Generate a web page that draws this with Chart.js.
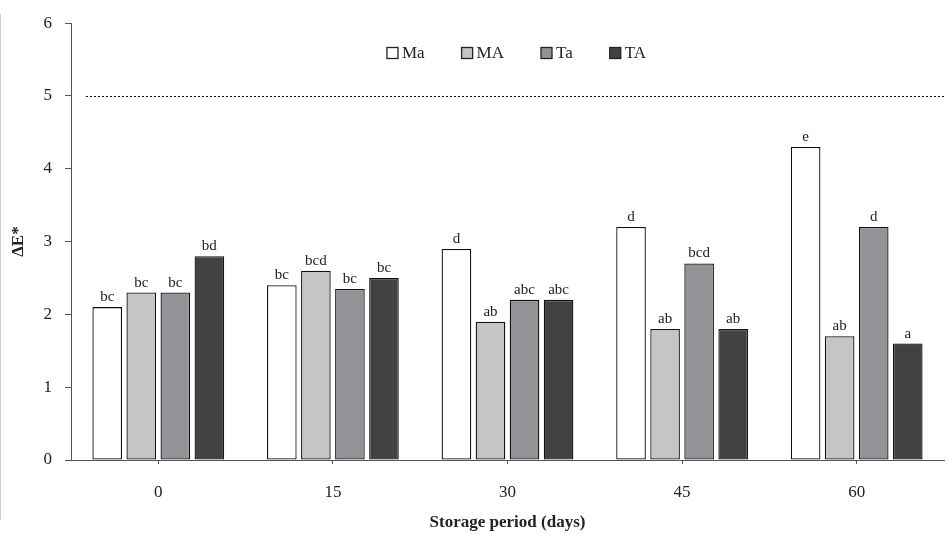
<!DOCTYPE html>
<html>
<head>
<meta charset="utf-8">
<script src="https://cdn.jsdelivr.net/npm/chart.js@4/dist/chart.umd.min.js"></script>
<style>
  html, body { margin: 0; padding: 0; background: #fff; }
  #wrap { width: 951px; height: 534px; position: relative; }
</style>
</head>
<body>
<div id="wrap"><canvas id="c" width="951" height="534"></canvas></div>
<script>
// Storage days and colour difference (ΔE*) per treatment
const days = ['0', '15', '30', '45', '60'];
const seriesNames = ['Ma', 'MA', 'Ta', 'TA'];
const ma = [2.1, 2.4, 2.9, 3.2, 4.3];
const mA = [2.3, 2.6, 1.9, 1.8, 1.7];
const ta = [2.3, 2.35, 2.2, 2.7, 3.2];
const tA = [2.8, 2.5, 2.2, 1.8, 1.6];
// Significance letters above each bar
const maLetters = ['bc', 'bc', 'd', 'd', 'e'];
const mALetters = ['bc', 'bcd', 'ab', 'ab', 'ab'];
const taLetters = ['bc', 'bc', 'abc', 'bcd', 'd'];
const tALetters = ['bd', 'bc', 'abc', 'ab', 'a'];
const yTicks = [0, 1, 2, 3, 4, 5, 6];
const limitValue = 5;

const fills = ['#ffffff', '#c4c5c4', '#929396', '#424244'];
const values = [ma, mA, ta, tA];
const letters = [maLetters, mALetters, taLetters, tALetters];
const serif = "'Liberation Serif', 'Times New Roman', serif";

const datasets = seriesNames.map((name, i) => ({
  label: name,
  data: values[i],
  letters: letters[i],
  backgroundColor: fills[i],
  borderColor: '#111',
  borderWidth: 1.3,
  borderSkipped: false,
  categoryPercentage: 0.78,
  barPercentage: 0.87
}));

const decorations = {
  id: 'decorations',
  afterDatasetsDraw(chart) {
    const { ctx, chartArea, scales } = chart;
    ctx.save();
    // threshold line
    const yl = Math.round(scales.y.getPixelForValue(limitValue)) + 0.5;
    ctx.strokeStyle = '#000';
    ctx.lineWidth = 1;
    ctx.setLineDash([2, 2]);
    ctx.beginPath();
    ctx.moveTo(chartArea.left + 15, yl);
    ctx.lineTo(chartArea.right, yl);
    ctx.stroke();
    ctx.setLineDash([]);

    // letters above bars
    ctx.font = '15px ' + serif;
    ctx.fillStyle = '#222';
    ctx.textAlign = 'center';
    ctx.textBaseline = 'alphabetic';
    chart.data.datasets.forEach((ds, di) => {
      chart.getDatasetMeta(di).data.forEach((bar, j) => {
        ctx.fillText(ds.letters[j], bar.x, bar.y - 6);
      });
    });

    // legend inside plot
    ctx.font = '17px ' + serif;
    ctx.textBaseline = 'middle';
    ctx.textAlign = 'left';
    const box = 11, gap = 4, spacing = 37;
    const widths = chart.data.datasets.map(ds => box + gap + ctx.measureText(ds.label).width);
    const total = widths.reduce((a, b) => a + b, 0) + spacing * (widths.length - 1);
    let x = (chartArea.left + chartArea.right) / 2 + 9 - total / 2;
    const ly = 54;
    chart.data.datasets.forEach((ds, i) => {
      ctx.fillStyle = ds.backgroundColor;
      ctx.fillRect(x, ly - box / 2 - 1, box, box);
      ctx.strokeStyle = '#222';
      ctx.lineWidth = 1.3;
      ctx.strokeRect(x, ly - box / 2 - 1, box, box);
      ctx.fillStyle = '#222';
      ctx.fillText(ds.label, x + box + gap, ly);
      x += widths[i] + spacing;
    });

    // faint frame edge on the left
    ctx.strokeStyle = '#d0d0d0';
    ctx.lineWidth = 1;
    ctx.beginPath();
    ctx.moveTo(0.5, 14);
    ctx.lineTo(0.5, 520);
    ctx.stroke();
    ctx.restore();
  }
};

new Chart(document.getElementById('c'), {
  type: 'bar',
  data: { labels: days, datasets },
  options: {
    responsive: false,
    animation: false,
    devicePixelRatio: 1,
    layout: { padding: { top: 19, right: 7, left: 0, bottom: 0 } },
    plugins: { legend: { display: false }, tooltip: { enabled: false } },
    scales: {
      x: {
        grid: { display: true, drawOnChartArea: false, drawTicks: true, tickLength: 4, offset: false, color: '#555' },
        border: { display: true, color: '#555', width: 1 },
        ticks: { color: '#222', font: { family: serif, size: 17 }, padding: 18 },
        title: { display: true, text: 'Storage period (days)', color: '#222', font: { family: serif, size: 17, weight: 'bold' }, padding: { top: 0, bottom: 1 } },
        afterFit(scale) { scale.height = 74; }
      },
      y: {
        min: 0, max: 6,
        afterBuildTicks(scale) { scale.ticks = yTicks.map(v => ({ value: v })); },
        grid: { display: true, drawOnChartArea: false, drawTicks: true, tickLength: 6, color: '#555' },
        border: { display: true, color: '#555', width: 1 },
        ticks: { color: '#222', font: { family: serif, size: 17 }, padding: 13 },
        title: { display: true, text: 'ΔE*', color: '#222', font: { family: serif, size: 17, weight: 'bold' }, padding: { top: 8, bottom: 0 } },
        afterFit(scale) { scale.width = 71; }
      }
    }
  },
  plugins: [decorations]
});
</script>
</body>
</html>
